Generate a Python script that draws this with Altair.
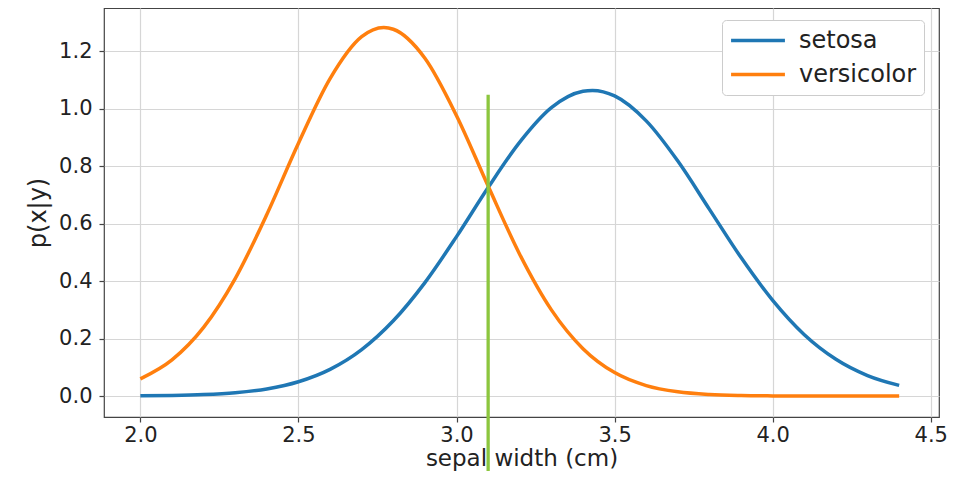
import altair as alt
import pandas as pd

# ---- data ----
setosa_x = [2.0, 2.1, 2.2, 2.3, 2.4, 2.5, 2.6, 2.7, 2.8, 2.9, 3.0, 3.1, 3.2, 3.3, 3.4, 3.43,
            3.5, 3.6, 3.7, 3.8, 3.9, 4.0, 4.1, 4.2, 4.3, 4.4]
setosa_y = [0.0008, 0.0020, 0.0050, 0.0115, 0.0248, 0.0498, 0.0929, 0.1617, 0.262, 0.395,
            0.555, 0.726, 0.884, 1.004, 1.061, 1.064, 1.045, 0.958, 0.818, 0.650, 0.482,
            0.333, 0.2135, 0.128, 0.0713, 0.0370]

versicolor_x = [2.0, 2.1, 2.2, 2.3, 2.4, 2.5, 2.6, 2.7, 2.77, 2.8, 2.9, 3.0, 3.1, 3.2, 3.3,
                3.4, 3.5, 3.6, 3.7, 3.8, 3.9, 4.0, 4.1, 4.2, 4.3, 4.4]
versicolor_y = [0.0598, 0.126, 0.239, 0.409, 0.632, 0.880, 1.105, 1.251, 1.283, 1.277, 1.176,
                0.976, 0.731, 0.493, 0.300, 0.165, 0.0816, 0.0364, 0.0147, 0.0053, 0.0017,
                0.0005, 0.0001, 0.0, 0.0, 0.0]

species = ["setosa", "versicolor"]
colors = ["#1f77b4", "#ff7f0e"]

boundary_x = [3.1]
boundary_top = [1.049]
boundary_bottom = [-0.3]

x_ticks = [2.0, 2.5, 3.0, 3.5, 4.0, 4.5]
y_ticks = [0.0, 0.2, 0.4, 0.6, 0.8, 1.0, 1.2]

curves = pd.concat([
    pd.DataFrame({"x": setosa_x, "y": setosa_y, "species": species[0]}),
    pd.DataFrame({"x": versicolor_x, "y": versicolor_y, "species": species[1]}),
])
boundary = pd.DataFrame({"x": boundary_x, "y": boundary_top, "y2": boundary_bottom})

FONT = "DejaVu Sans"

xscale = alt.Scale(domain=[1.885, 4.526], nice=False, zero=False)
yscale = alt.Scale(domain=[-0.073, 1.351], nice=False, zero=False)

lines = alt.Chart(curves).mark_line(strokeWidth=3.5, interpolate="monotone").encode(
    x=alt.X("x:Q", scale=xscale,
            axis=alt.Axis(values=x_ticks, format=".1f", title="sepal width (cm)",
                          labelPadding=2, titlePadding=2, titleFontSize=23)),
    y=alt.Y("y:Q", scale=yscale,
            axis=alt.Axis(values=y_ticks, format=".1f", title="p(x|y)",
                          labelPadding=7, titlePadding=8)),
    color=alt.Color("species:N", scale=alt.Scale(domain=species, range=colors),
                    legend=alt.Legend(title=None, orient="none", legendX=618, legendY=12,
                                      symbolType="stroke", symbolSize=2900,
                                      symbolStrokeWidth=3.5, labelFontSize=24,
                                      labelFont=FONT, labelColor="#222222",
                                      strokeColor="#cccccc", fillColor="white",
                                      cornerRadius=4, padding=7, rowPadding=7,
                                      clipHeight=27, labelOffset=12)),
)

rule = alt.Chart(boundary).mark_rule(color="#8cc63e", strokeWidth=3.3, clip=False).encode(
    x=alt.X("x:Q", scale=xscale),
    y=alt.Y("y:Q", scale=yscale),
    y2="y2:Q",
)

chart = alt.layer(lines, rule).properties(
    width=835, height=409,
    autosize=alt.AutoSizeParams(type="none"),
    padding={"left": 96, "top": 0, "right": 16, "bottom": 54},
).configure_view(
    stroke="#444444", strokeWidth=1.2
).configure_axis(
    domain=False, grid=True, gridColor="#d6d6d6", gridWidth=1.2,
    tickColor="#444444", tickSize=5, tickWidth=1.2,
    labelFont=FONT, labelFontSize=21, labelColor="#222222",
    titleFont=FONT, titleFontSize=24, titleFontWeight="normal", titleColor="#222222",
)

chart.save("out.html", embed_options={"renderer": "svg", "actions": False})
